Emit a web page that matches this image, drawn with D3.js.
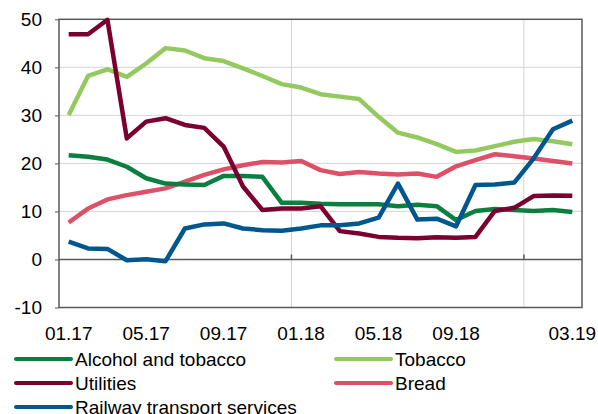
<!DOCTYPE html>
<html>
<head>
<meta charset="utf-8">
<script src="https://cdn.jsdelivr.net/npm/d3@7"></script>
<style>
html,body{margin:0;padding:0;background:#fff;}
svg text{font-family:"Liberation Sans",Arial,sans-serif;fill:#000;}
</style>
</head>
<body>
<svg id="chart" width="598" height="414"></svg>
<script>
const months = ["01.17","02.17","03.17","04.17","05.17","06.17","07.17","08.17","09.17","10.17","11.17","12.17",
"01.18","02.18","03.18","04.18","05.18","06.18","07.18","08.18","09.18","10.18","11.18","12.18",
"01.19","02.19","03.19"];
const xTickLabels = ["01.17","05.17","09.17","01.18","05.18","09.18","03.19"];
const xGridMonths = ["01.18","01.19"];
const yTicks = [-10,0,10,20,30,40,50];

const alcoholTobacco = [21.7,21.4,20.8,19.3,16.9,15.8,15.6,15.5,17.4,17.4,17.2,11.8,11.8,11.6,11.5,11.5,11.5,11.1,11.4,11.1,8.2,10.1,10.5,10.3,10.1,10.3,9.9];
const tobacco = [30.1,38.2,39.6,38.0,40.8,44.0,43.5,41.9,41.3,39.8,38.2,36.5,35.8,34.4,33.9,33.4,29.7,26.4,25.4,24.0,22.4,22.7,23.6,24.5,25.1,24.6,24.0];
const utilities = [46.9,46.9,49.9,25.2,28.7,29.4,28.0,27.4,23.5,15.2,10.3,10.6,10.6,11.1,5.9,5.4,4.7,4.5,4.4,4.65,4.5,4.7,10.1,10.75,13.2,13.3,13.25];
const bread = [7.7,10.6,12.5,13.4,14.1,14.8,16.2,17.6,18.75,19.6,20.3,20.2,20.5,18.6,17.8,18.2,17.9,17.7,17.9,17.2,19.4,20.7,21.9,21.5,21.0,20.5,20.0];
const railway = [3.7,2.3,2.2,-0.15,0.05,-0.35,6.45,7.3,7.5,6.45,6.1,6.0,6.45,7.1,7.1,7.5,8.7,15.8,8.3,8.5,6.9,15.5,15.6,16.0,21.0,27.1,28.9];

const seriesNames = ["Alcohol and tobacco","Tobacco","Utilities","Bread","Railway transport services"];
const seriesValues = [alcoholTobacco,tobacco,utilities,bread,railway];
const seriesColors = ["#0b7f40","#93c95e","#7a0030","#de4f68","#00568f"];
// drawing order (back to front)
const drawOrder = [1,3,0,2,4];

const svg = d3.select("#chart");
const L=59, R=582, T=19.3, B=307.5;

const x = d3.scalePoint().domain(months).range([L,R]).padding(0.5);
const step = x.step();
const y = d3.scaleLinear().domain([-10,50]).range([B,T]);

// horizontal grid
svg.append("g").selectAll("line").data(yTicks.filter(v=>v!==-10&&v!==0&&v!==50)).join("line")
  .attr("x1",L).attr("x2",R).attr("y1",d=>y(d)).attr("y2",d=>y(d))
  .attr("stroke","#d4d4d4").attr("stroke-width",1);
// vertical grid
svg.append("g").selectAll("line").data(xGridMonths).join("line")
  .attr("x1",d=>x(d)-step/2).attr("x2",d=>x(d)-step/2).attr("y1",T).attr("y2",B)
  .attr("stroke","#d4d4d4").attr("stroke-width",1);

// y axis
const yAxis = d3.axisLeft(y).tickValues(yTicks).tickSize(4).tickPadding(13).tickFormat(d=>String(d));
const gy = svg.append("g").attr("transform",`translate(${L},0)`).call(yAxis);
gy.select(".domain").remove();
gy.selectAll(".tick line").attr("stroke","#595959");
gy.selectAll("text").style("font-size","19px").attr("fill","#000");

// zero line and tick marks
svg.append("line").attr("x1",L).attr("x2",R).attr("y1",y(0)).attr("y2",y(0))
  .attr("stroke","#595959").attr("stroke-width",1.5);
svg.append("g").selectAll("line").data(xGridMonths).join("line")
  .attr("x1",d=>x(d)-step/2).attr("x2",d=>x(d)-step/2).attr("y1",y(0)).attr("y2",y(0)-5)
  .attr("stroke","#595959").attr("stroke-width",1.5);

// frame
svg.append("rect").attr("x",L).attr("y",T).attr("width",R-L).attr("height",B-T)
  .attr("fill","none").attr("stroke","#595959").attr("stroke-width",1.5);

// x labels
svg.append("g").selectAll("text").data(xTickLabels).join("text")
  .attr("x",d=>x(d)).attr("y",B+32).attr("text-anchor","middle")
  .style("font-size","19px").text(d=>d);

// lines
const line = d3.line().x((d,i)=>x(months[i])).y(d=>y(d));
svg.append("g").selectAll("path").data(drawOrder).join("path")
  .attr("d",k=>line(seriesValues[k]))
  .attr("fill","none").attr("stroke",k=>seriesColors[k]).attr("stroke-width",4.5)
  .attr("stroke-linejoin","round").attr("stroke-linecap","butt");

// legend
const legPos = [[16,359],[336,359],[16,383],[336,383],[16,407]];
const leg = svg.append("g").selectAll("g").data(seriesNames).join("g")
  .attr("transform",(d,i)=>`translate(${legPos[i][0]},${legPos[i][1]})`);
leg.append("line").attr("x1",0).attr("x2",55).attr("y1",0).attr("y2",0)
  .attr("stroke",(d,i)=>seriesColors[i]).attr("stroke-width",4).attr("stroke-linecap","round");
leg.append("text").attr("x",59).attr("y",7).style("font-size","19px").text(d=>d);
</script>
</body>
</html>
